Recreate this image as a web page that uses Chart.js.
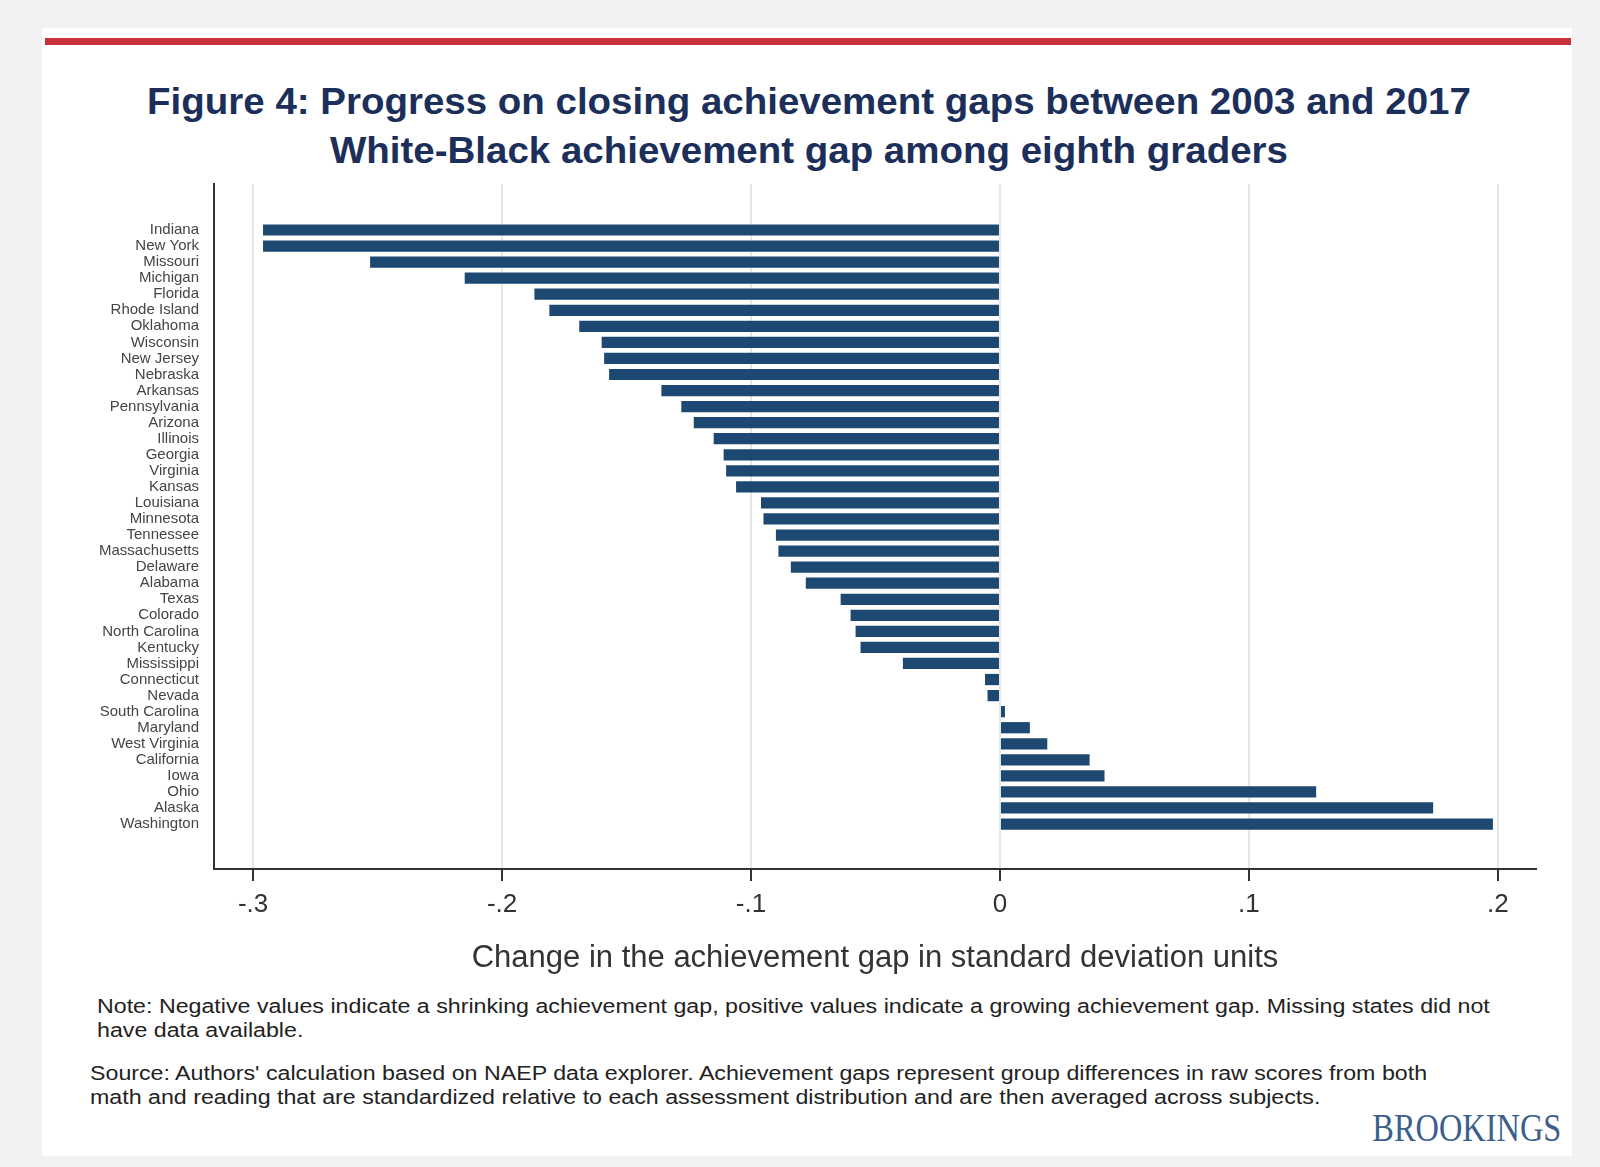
<!DOCTYPE html>
<html>
<head>
<meta charset="utf-8">
<script src="https://cdn.jsdelivr.net/npm/chart.js@4.4.1/dist/chart.umd.min.js"></script>
<style>
  body { margin: 0; width: 1600px; height: 1167px; overflow: hidden; background: #f2f2f2; font-family: "Liberation Sans", Arial, sans-serif; }
  .card { position: absolute; left: 42px; top: 28px; width: 1530px; height: 1128px; background: #fff; }
  .redline { position: absolute; left: 45px; top: 38px; width: 1526px; height: 7px; background: #c8313a; }
  .title { position: absolute; left: 9px; top: 77px; width: 1600px; text-align: center; font-weight: bold; font-size: 37px; line-height: 49px; color: #1b2f5a; transform: scaleX(1.04); }
  .chartbox { position: absolute; left: 60px; top: 160px; width: 1500px; height: 825px; }
  .note { position: absolute; font-size: 20px; line-height: 24px; color: #222; transform: scaleX(1.16); transform-origin: left center; white-space: nowrap; }
  .brand { position: absolute; right: 39px; top: 1104px; font-family: "Liberation Serif", "DejaVu Serif", serif; font-size: 40px; line-height: 48px; color: #3d5f8c; transform: scaleX(0.81); transform-origin: right center; }
</style>
</head>
<body>
<div class="card"></div>
<div class="redline"></div>
<div class="title">Figure 4: Progress on closing achievement gaps between 2003 and 2017<br>White-Black achievement gap among eighth graders</div>
<div class="chartbox"><canvas id="gapChart"></canvas></div>
<div class="note" style="left:97px; top:994px;">Note: Negative values indicate a shrinking achievement gap, positive values indicate a growing achievement gap. Missing states did not<br>have data available.</div>
<div class="note" style="left:90px; top:1061px;">Source: Authors' calculation based on NAEP data explorer. Achievement gaps represent group differences in raw scores from both<br>math and reading that are standardized relative to each assessment distribution and are then averaged across subjects.</div>
<div class="brand">BROOKINGS</div>
<script>
// states, top to bottom
const states = ['Indiana', 'New York', 'Missouri', 'Michigan', 'Florida', 'Rhode Island', 'Oklahoma',
    'Wisconsin', 'New Jersey', 'Nebraska', 'Arkansas', 'Pennsylvania', 'Arizona', 'Illinois', 'Georgia',
    'Virginia', 'Kansas', 'Louisiana', 'Minnesota', 'Tennessee', 'Massachusetts', 'Delaware', 'Alabama',
    'Texas', 'Colorado', 'North Carolina', 'Kentucky', 'Mississippi', 'Connecticut', 'Nevada',
    'South Carolina', 'Maryland', 'West Virginia', 'California', 'Iowa', 'Ohio', 'Alaska', 'Washington'];

// change in gap (SD units)
const gapChange = [-0.296, -0.296, -0.253, -0.215, -0.187, -0.181, -0.169,
    -0.160, -0.159, -0.157, -0.136, -0.128, -0.123, -0.115, -0.111,
    -0.110, -0.106, -0.096, -0.095, -0.090, -0.089, -0.084, -0.078,
    -0.064, -0.060, -0.058, -0.056, -0.039, -0.006, -0.005,
    0.002, 0.012, 0.019, 0.036, 0.042, 0.127, 0.174, 0.198];

const xTickValues = [-0.3, -0.2, -0.1, 0, 0.1, 0.2];
const xTickLabels = ['-.3', '-.2', '-.1', '0', '.1', '.2'];

const points = gapChange.map((v, i) => ({ x: v, y: i }));

new Chart(document.getElementById('gapChart'), {
    type: 'bar',
    data: {
        datasets: [{
            data: points,
            backgroundColor: '#1d4871',
            borderWidth: 0,
            barPercentage: 0.7,
            categoryPercentage: 1
        }]
    },
    options: {
        indexAxis: 'y',
        animation: false,
        responsive: true,
        maintainAspectRatio: false,
        layout: { padding: { left: 0, right: 24, top: 0, bottom: 0 } },
        plugins: { legend: { display: false }, tooltip: { enabled: false } },
        scales: {
            x: {
                type: 'linear',
                min: -0.3157,
                max: 0.2153,
                afterBuildTicks: s => { s.ticks = xTickValues.map(v => ({ value: v })); },
                afterFit: s => { s.height = 116; },
                ticks: {
                    padding: 8,
                    color: '#333',
                    font: { family: 'Liberation Sans', size: 26 },
                    callback: v => xTickLabels[xTickValues.findIndex(t => Math.abs(t - v) < 1e-9)]
                },
                grid: { color: '#e6e6e6', lineWidth: 2, tickLength: 12, tickColor: '#333', tickWidth: 2 },
                border: { color: '#333', width: 2 },
                title: {
                    display: true,
                    text: 'Change in the achievement gap in standard deviation units',
                    color: '#333',
                    font: { family: 'Liberation Sans', size: 31 },
                    padding: { top: 0, bottom: 8 }
                }
            },
            y: {
                type: 'linear',
                reverse: true,
                offset: false,
                min: -2.865,
                max: 39.8,
                afterBuildTicks: s => { s.ticks = states.map((_, i) => ({ value: i })); },
                afterFit: s => { s.width = 154; },
                ticks: {
                    padding: 15,
                    autoSkip: false,
                    color: '#444',
                    font: { family: 'Liberation Sans', size: 15 },
                    callback: v => states[v]
                },
                grid: { display: false, drawTicks: false, offset: false },
                border: { color: '#333', width: 2 }
            }
        }
    }
});
</script>
</body>
</html>
